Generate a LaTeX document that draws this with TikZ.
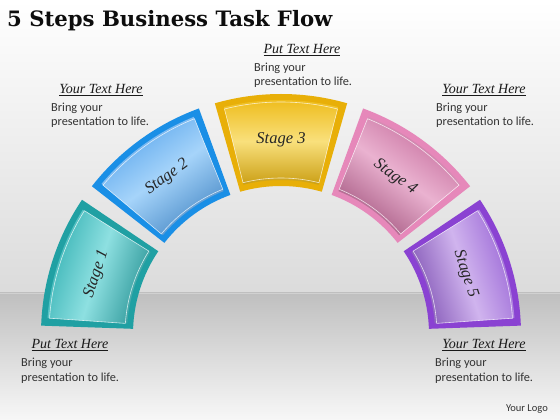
\documentclass[tikz,border=0pt]{standalone}
\usepackage{fontspec}
\setmainfont{Carlito}
\newfontfamily\titlefont{DejaVu Serif}
\newfontfamily\headfont{Liberation Serif}
\definecolor{bodytxt}{HTML}{333333}
\definecolor{tealB}{HTML}{20A0A3}\definecolor{tealD}{HTML}{36B2B4}\definecolor{tealL}{HTML}{8EE0E1}
\definecolor{blueB}{HTML}{1A8FE6}\definecolor{blueD}{HTML}{5AA6EC}\definecolor{blueL}{HTML}{A6D4FA}
\definecolor{goldB}{HTML}{E8AF08}\definecolor{goldD}{HTML}{EEBB18}\definecolor{goldL}{HTML}{F9E07C}
\definecolor{pinkB}{HTML}{E688BA}\definecolor{pinkD}{HTML}{C46A9A}\definecolor{pinkL}{HTML}{EAB2D0}
\definecolor{purpB}{HTML}{8A42D2}\definecolor{purpD}{HTML}{9A66D6}\definecolor{purpL}{HTML}{D0B4EE}
\tikzset{
  headtxt/.style={font=\headfont\itshape\fontsize{14}{16}\selectfont, text=black!90, inner sep=0pt},
  bodytext/.style={font=\fontsize{12.3}{14.5}\selectfont, text=bodytxt, inner sep=0pt, align=left},
  stagetxt/.style={font=\headfont\itshape\fontsize{16.5}{18}\selectfont, text=black!85, inner sep=0pt},
}
\newcommand\stageseg[8]{%
  \pgfmathsetmacro\sa{#1}\pgfmathsetmacro\ea{#2}%
  \pgfmathsetmacro\sai{#1+1.9}\pgfmathsetmacro\eai{#2-1.9}%
  \pgfmathsetmacro\mid{(#1+#2)/2}\pgfmathsetmacro\rot{\mid-90}%
  \fill[#3] (\sa:240pt) arc[start angle=\sa, end angle=\ea, radius=240pt]
     -- (\ea:148pt) arc[start angle=\ea, end angle=\sa, radius=148pt] -- cycle;
  \shade[top color=#4, bottom color=#4!85!black, middle color=#5, shading angle=\rot]
     (\sai:234pt) arc[start angle=\sai, end angle=\eai, radius=234pt]
     -- (\eai:154pt) arc[start angle=\eai, end angle=\sai, radius=154pt] -- cycle;
  \draw[white, opacity=.75, line width=.6pt]
     (\sai:232pt) arc[start angle=\sai, end angle=\eai, radius=232pt]
     -- (\eai:156pt) arc[start angle=\eai, end angle=\sai, radius=156pt] -- cycle;
  \node[stagetxt, rotate=\rot] (#8) at (\mid:194pt) {#6};
}
\begin{document}
\begin{tikzpicture}[x=1pt,y=1pt]
\useasboundingbox (0,0) rectangle (560,420);
% background
\shade[top color=white, bottom color=black!14] (0,127) rectangle (560,420);
\shade[top color=black!25, bottom color=black!3] (0,0) rectangle (560,127);
\draw[black!18, line width=.8pt] (0,127) -- (560,127);
% title
\node[anchor=base west, inner sep=0pt, font=\titlefont\bfseries\fontsize{21.2}{24}\selectfont, text=black!95] (title) at (7,393) {5 Steps Business Task Flow};
% segments
\begin{scope}[shift={(281,86)}]
\stageseg{146}{178}{tealB}{tealD}{tealL}{Stage 1}{}{s1}
\stageseg{110}{142}{blueB}{blueD}{blueL}{Stage 2}{}{s2}
\stageseg{74}{106}{goldB}{goldD}{goldL}{Stage 3}{}{s3}
\stageseg{38}{70}{pinkB}{pinkD}{pinkL}{Stage 4}{}{s4}
\stageseg{2}{34}{purpB}{purpD}{purpL}{Stage 5}{}{s5}
\end{scope}
% top center
\node[headtxt, anchor=base] (h3) at (302,366) {\underline{Put Text Here}};
\node[bodytext, anchor=base west] (b3a) at (254,348) {Bring your};
\node[bodytext, anchor=base west] (b3b) at (254,334) {presentation to life.};
% top left
\node[headtxt, anchor=base] (h2) at (101,326) {\underline{Your Text Here}};
\node[bodytext, anchor=base west] (b2a) at (51,308) {Bring your};
\node[bodytext, anchor=base west] (b2b) at (51,294) {presentation to life.};
% top right
\node[headtxt, anchor=base] (h4) at (484,326) {\underline{Your Text Here}};
\node[bodytext, anchor=base west] (b4a) at (436,308) {Bring your};
\node[bodytext, anchor=base west] (b4b) at (436,294) {presentation to life.};
% bottom left
\node[headtxt, anchor=base] (h1) at (70,71) {\underline{Put Text Here}};
\node[bodytext, anchor=base west] (b1a) at (21,53) {Bring your};
\node[bodytext, anchor=base west] (b1b) at (21,38) {presentation to life.};
% bottom right
\node[headtxt, anchor=base] (h5) at (484,71) {\underline{Your Text Here}};
\node[bodytext, anchor=base west] (b5a) at (435,53) {Bring your};
\node[bodytext, anchor=base west] (b5b) at (435,38) {presentation to life.};
% logo
\node[anchor=base east, inner sep=0pt, font=\fontsize{10.5}{12}\selectfont, text=black!80] (logo) at (548,8) {Your Logo};
\end{tikzpicture}
\end{document}
